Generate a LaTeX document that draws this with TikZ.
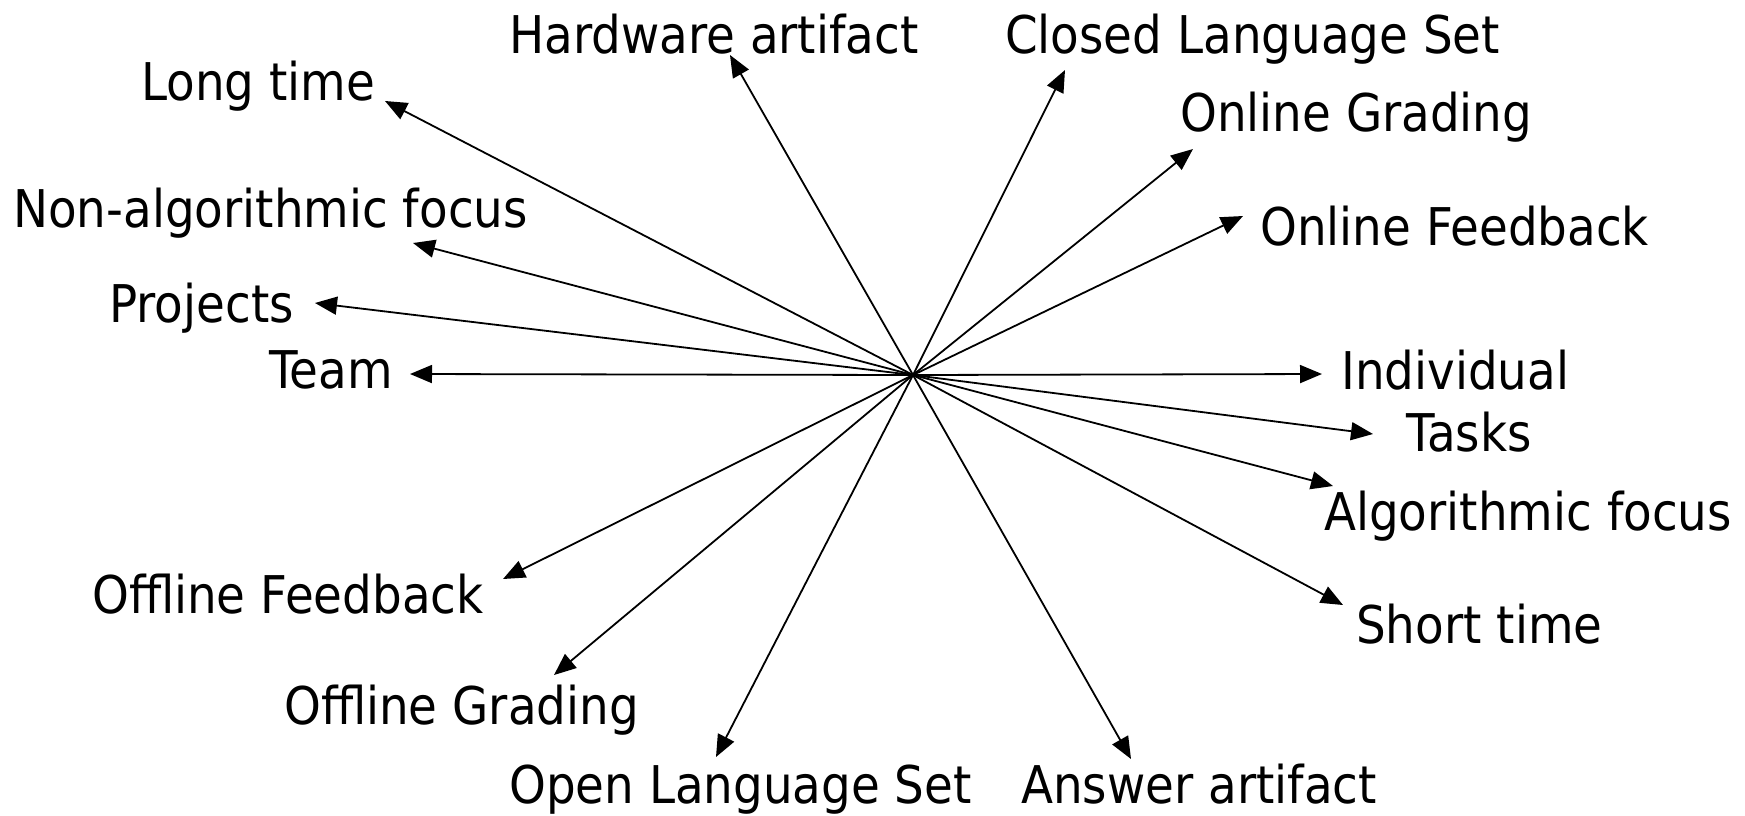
\documentclass[tikz,border=0pt]{standalone}
\usepackage{fontspec}
\setmainfont{DejaVu Sans}[FakeStretch=0.9]
\usetikzlibrary{arrows.meta}
\begin{document}
\begin{tikzpicture}[x=1pt,y=-1pt,
  lbl/.style={anchor=base west,inner sep=0pt,font=\fontsize{52}{60}\selectfont},
  ray/.style={line width=1.8pt,-{Triangle[length=22pt,width=18pt]}}]
\useasboundingbox (0,0) rectangle (1745,815);
\coordinate (c) at (913,375);
% labels
\node[lbl] (long) at (141,100) {Long time};
\node[lbl] (hard) at (509,53) {Hardware artifact};
\node[lbl] (closed) at (1005,53) {Closed Language Set};
\node[lbl] (ograd) at (1180,131) {Online Grading};
\node[lbl] (ofeed) at (1260,245) {Online Feedback};
\node[lbl] (nonalg) at (13,227) {Non-algorithmic focus};
\node[lbl] (proj) at (109,322) {Projects};
\node[lbl] (team) at (269,388) {Team};
\node[lbl] (indiv) at (1341,389) {Individual};
\node[lbl] (tasks) at (1406,451) {Tasks};
\node[lbl] (alg) at (1324,530) {Algorithmic focus};
\node[lbl] (short) at (1356,643) {Short time};
\node[lbl] (offeed) at (92,613) {Offline Feedback};
\node[lbl] (ofgrad) at (284,724) {Offline Grading};
\node[lbl] (open) at (509,803) {Open Language Set};
\node[lbl] (answer) at (1021,803) {Answer artifact};
% arrow tips
\coordinate (tlong) at (385,101);
\coordinate (thard) at (730,55);
\coordinate (tclosed) at (1065,70);
\coordinate (tograd) at (1193,149);
\coordinate (tofeed) at (1243,216);
\coordinate (tnonalg) at (413,243);
\coordinate (tproj) at (315,303);
\coordinate (tteam) at (410,374);
\coordinate (tindiv) at (1322,374);
\coordinate (ttasks) at (1373,434);
\coordinate (talg) at (1333,486);
\coordinate (tshort) at (1343,605);
\coordinate (toffeed) at (503,579);
\coordinate (tofgrad) at (554,675);
\coordinate (topen) at (716,757);
\coordinate (tanswer) at (1131,759);
\foreach \t in {tlong,thard,tclosed,tograd,tofeed,tnonalg,tproj,tteam,tindiv,ttasks,talg,tshort,toffeed,tofgrad,topen,tanswer}
  \draw[ray] (c) -- (\t);
\end{tikzpicture}
\end{document}
